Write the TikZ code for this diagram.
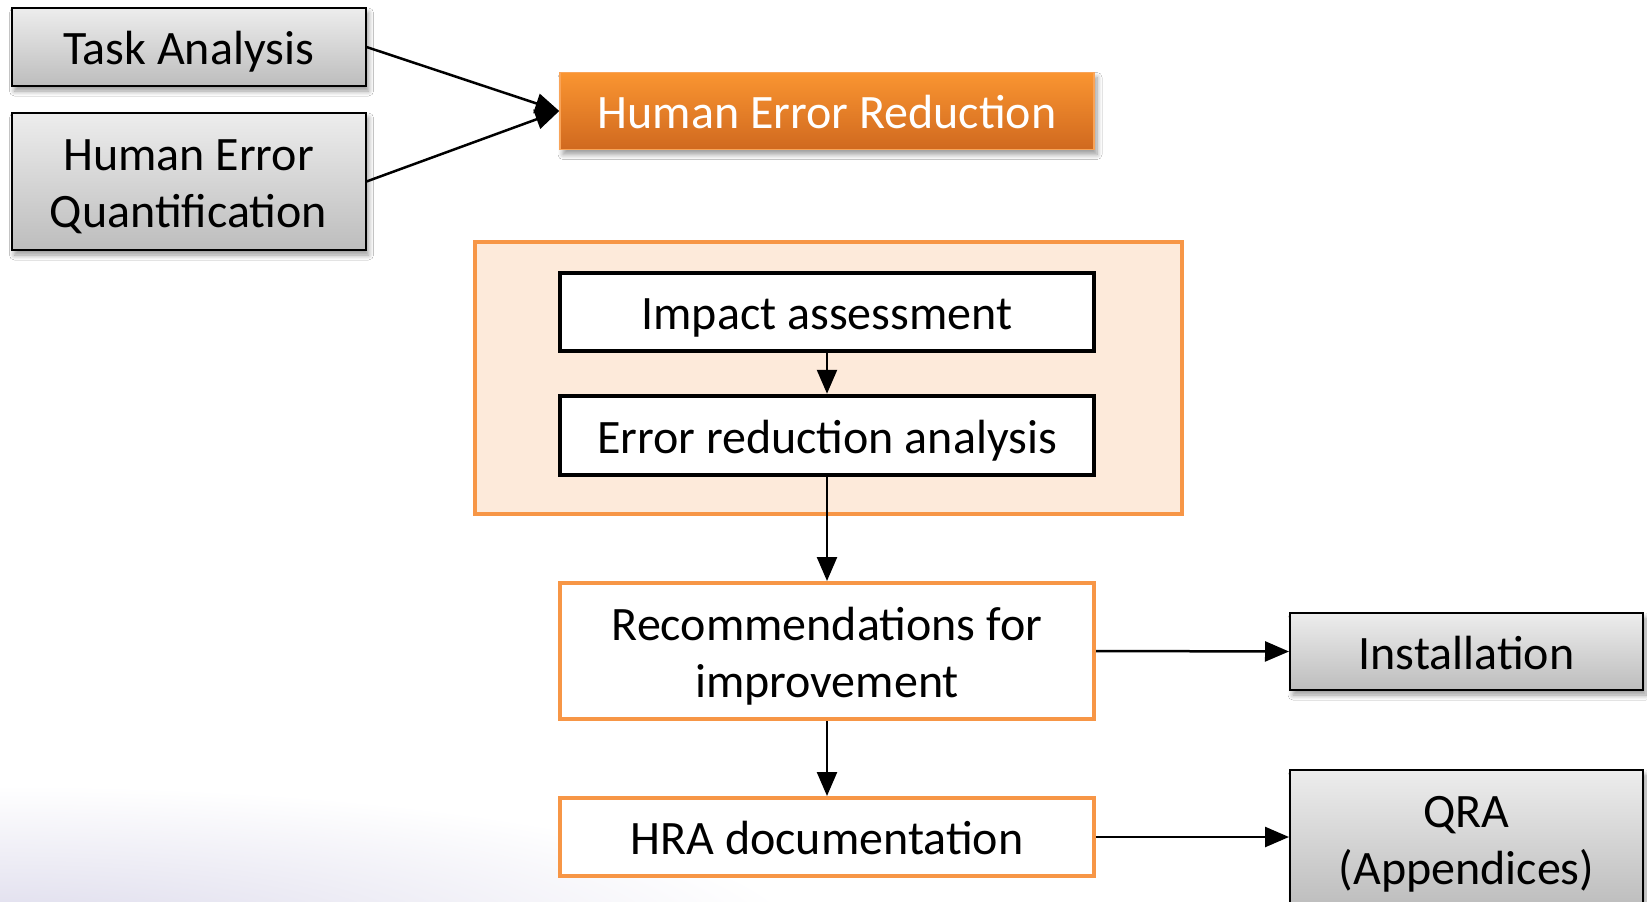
\documentclass[tikz,border=0pt]{standalone}
\usepackage{fontspec}
\setmainfont{Carlito}
\usetikzlibrary{arrows.meta,shadows.blur}
\definecolor{boxorange}{HTML}{F79646}
\definecolor{panelfill}{HTML}{FDEADA}
\definecolor{greytop}{HTML}{EDEDED}
\definecolor{greybot}{HTML}{BDBDBD}
\definecolor{hertop}{HTML}{FA9531}
\definecolor{herbot}{HTML}{D0691F}
\definecolor{herline}{HTML}{F9A458}
\definecolor{haze}{HTML}{DCDAEB}

% text wrapped in struts that give the first and last lines the full
% ascent/descent of the font, so lines sit as in a slide text box
\newcommand\ascentstrut{\rule{0pt}{1.0em}}
\newcommand\descentstrut{\rule[-0.27em]{0pt}{0.27em}}
\newcommand\boxtext[1]{\ascentstrut#1\descentstrut}

\begin{document}
\begin{tikzpicture}[x=1pt,y=-1pt,
  every node/.style={font=\fontsize{48}{57}\selectfont, align=center, inner sep=0pt},
  softshadow/.style={blur shadow={shadow xshift=3pt, shadow yshift=-5pt, shadow blur steps=8, shadow blur radius=5pt, shadow opacity=40}},
  greybox/.style={draw=black, line width=2pt, top color=greytop, bottom color=greybot,
    minimum width=354pt, softshadow},
  herbox/.style={draw=herline, line width=1.5pt, top color=hertop, bottom color=herbot,
    text=white, minimum width=534pt, minimum height=77pt, softshadow},
  blackbox/.style={draw=black, fill=white, line width=4.5pt, minimum width=534pt},
  orangebox/.style={draw=boxorange, fill=white, line width=4pt, minimum width=534pt},
  panel/.style={draw=boxorange, fill=panelfill, line width=4pt},
  flow/.style={line width=2.5pt, -{Triangle[length=24pt,width=20pt]}}
]
\useasboundingbox (0,0) rectangle (1647,902);
\fill[white] (0,0) rectangle (1647,902);

% faint tint in the lower left corner
\shade[inner color=haze, outer color=white] (0,935) ellipse [x radius=800, y radius=150];

% inputs
\node[greybox, minimum height=78pt] (task) at (188.5,47) {\boxtext{Task Analysis}};
\node[greybox, minimum height=137pt] (heq) at (188.5,181.5) {\boxtext{Human Error\\Quantification}};

% main step
\node[herbox] (her) at (827,111) {\boxtext{Human Error Reduction}};

% grouped analysis steps
\node[panel, minimum width=707pt, minimum height=272pt] (group) at (828.5,377.6) {};
\node[blackbox, minimum height=78pt] (impact) at (827,312) {\boxtext{Impact assessment}};
\node[blackbox, minimum height=79pt] (era) at (827,435.5) {\boxtext{Error reduction analysis}};

% outcomes
\node[orangebox, minimum height=136pt] (rec) at (827,651) {\boxtext{Recommendations for\\improvement}};
\node[orangebox, minimum height=78pt] (hra) at (827,837) {\boxtext{HRA documentation}};

% destinations
\node[greybox, minimum width=353pt, minimum height=77pt] (inst) at (1466.5,651.5) {\boxtext{Installation}};
\node[greybox, minimum width=353pt, minimum height=137pt] (qra) at (1466.5,838.5) {\boxtext{QRA\\(Appendices)}};

% connectors
\draw[flow] (task.east) -- (her.west);
\draw[flow] (heq.east) -- (her.west);
\draw[flow] (impact.south) -- (era.north);
\draw[flow] (era.south) -- (rec.north);
\draw[flow] (rec.south) -- (hra.north);
\draw[flow] (rec.east) -- (inst.west);
\draw[flow] (hra.east) -- (hra.east -| qra.west);
\end{tikzpicture}
\end{document}
